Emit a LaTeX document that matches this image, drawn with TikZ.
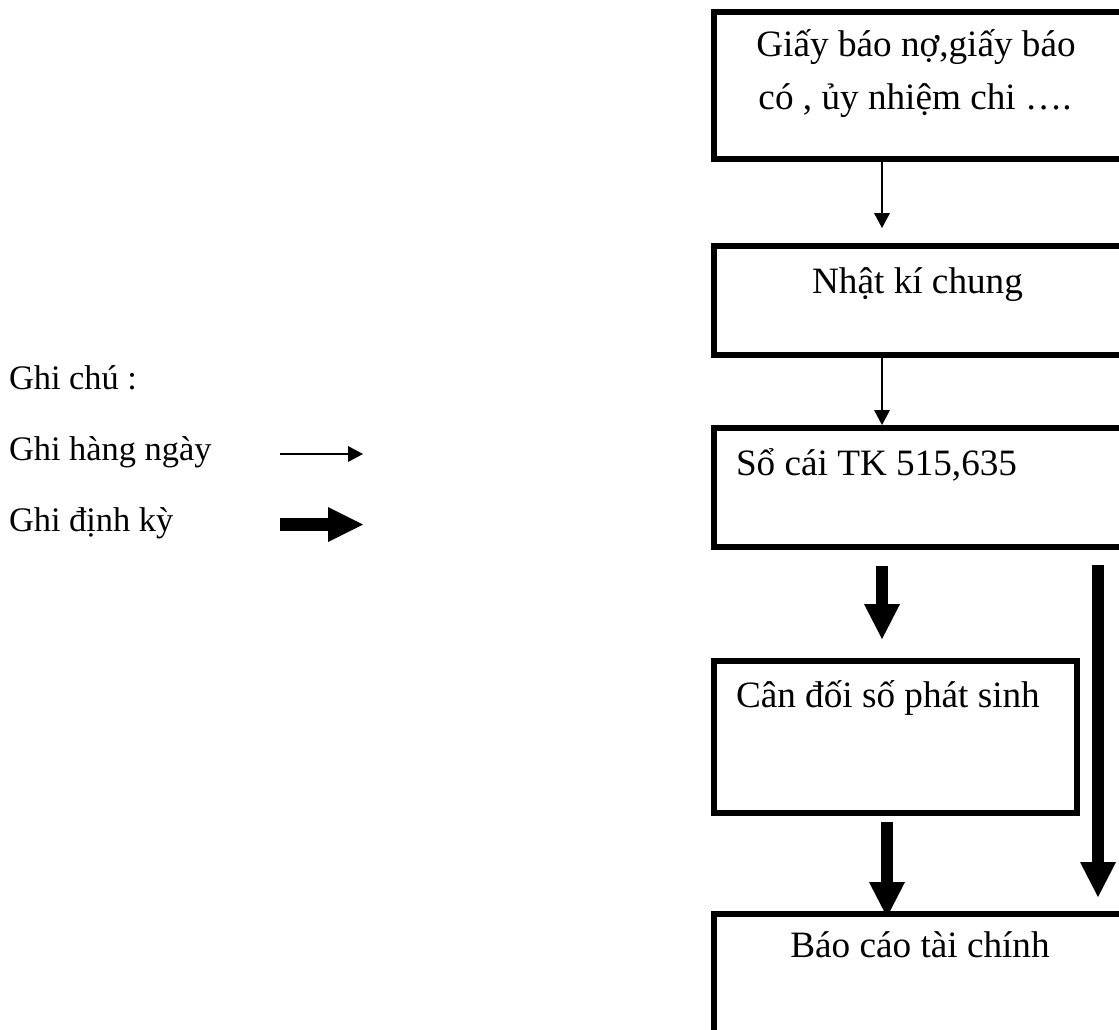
\documentclass[tikz,border=0pt]{standalone}
\usepackage{fontspec}
\setmainfont{Liberation Serif}
\usetikzlibrary{arrows.meta,calc}
\begin{document}
\begin{tikzpicture}[x=0.75pt,y=-0.75pt,
  box/.style={draw,line width=4.5pt,rectangle,inner sep=0pt,outer sep=0pt,anchor=north west},
  lbl/.style={inner sep=0pt,outer sep=0pt,font=\fontsize{27.9pt}{36pt}\selectfont},
  leg/.style={inner sep=0pt,outer sep=0pt,font=\fontsize{25.8pt}{30pt}\selectfont},
  thinarrow/.style={line width=1.5pt,-{Triangle[length=11.25pt,width=12pt,line width=0pt]}},
  boldarrow/.style={line width=9pt,-{Triangle[length=26.25pt,width=27pt,line width=0pt]}},
]
\useasboundingbox (0,0) rectangle (1119,1029);
\clip (0,0) rectangle (1119,1029);

% process boxes (their right and lower parts run off the page)
\node[box,minimum width=411*0.75pt,minimum height=146.5*0.75pt] (b1) at (714,12) {};
\node[box,minimum width=411*0.75pt,minimum height=109*0.75pt]   (b2) at (714,246) {};
\node[box,minimum width=411*0.75pt,minimum height=119*0.75pt]   (b3) at (714,428) {};
\node[box,minimum width=363*0.75pt,minimum height=152.5*0.75pt] (b4) at (714,660.5) {};
\node[box,minimum width=411*0.75pt,minimum height=150*0.75pt]   (b5) at (714,914) {};

% box captions
\node[lbl,anchor=base] (t1a) at (916,56) {Giấy báo nợ,giấy báo};
\node[lbl,anchor=base] (t1b) at (915,109) {có , ủy nhiệm chi ….};
\node[lbl,anchor=base] (t2) at (917.5,293) {Nhật kí chung};
\node[lbl,anchor=base west] (t3) at (736,475) {Sổ cái TK 515,635};
\node[lbl,anchor=base west] (t4) at (736,707) {Cân đối số phát sinh};
\node[lbl,anchor=base] (t5) at (920,957) {Báo cáo tài chính};

% daily flow
\draw[thinarrow,shorten >=13.5pt] ($(b1.south west)+(168,0)$) -- ($(b2.north west)+(168,0)$);
\draw[thinarrow,shorten >=2.25pt] ($(b2.south west)+(168,0)$) -- ($(b3.north west)+(168,0)$);

% periodic flow
\draw[boldarrow,shorten <=14.25pt,shorten >=16.1pt] ($(b3.south west)+(168,0)$) -- ($(b4.north west)+(168,0)$);
\draw[boldarrow,shorten <=13.5pt,shorten >=12.75pt] ($(b3.south west)+(384,0)$) -- ($(b5.north west)+(384,0)$);
\draw[boldarrow,shorten <=6.75pt,shorten >=-2.25pt] ($(b4.south west)+(173,0)$) -- ($(b5.north west)+(173,0)$);

% legend
\node[leg,anchor=base west] (g0) at (9,389) {Ghi chú :};
\node[leg,anchor=base west] (g1) at (9,460) {Ghi hàng ngày};
\node[leg,anchor=base west] (g2) at (9,531) {Ghi định kỳ};
\coordinate (l1s) at (280,454);
\coordinate (l1e) at (363,454);
\coordinate (l2s) at (280,524.5);
\coordinate (l2e) at (363,524.5);
\draw[thinarrow] (l1s) -- (l1e);
\draw[line width=9.75pt,-{Triangle[length=26.25pt,width=26.25pt,line width=0pt]}] (l2s) -- (l2e);
\end{tikzpicture}
\end{document}
